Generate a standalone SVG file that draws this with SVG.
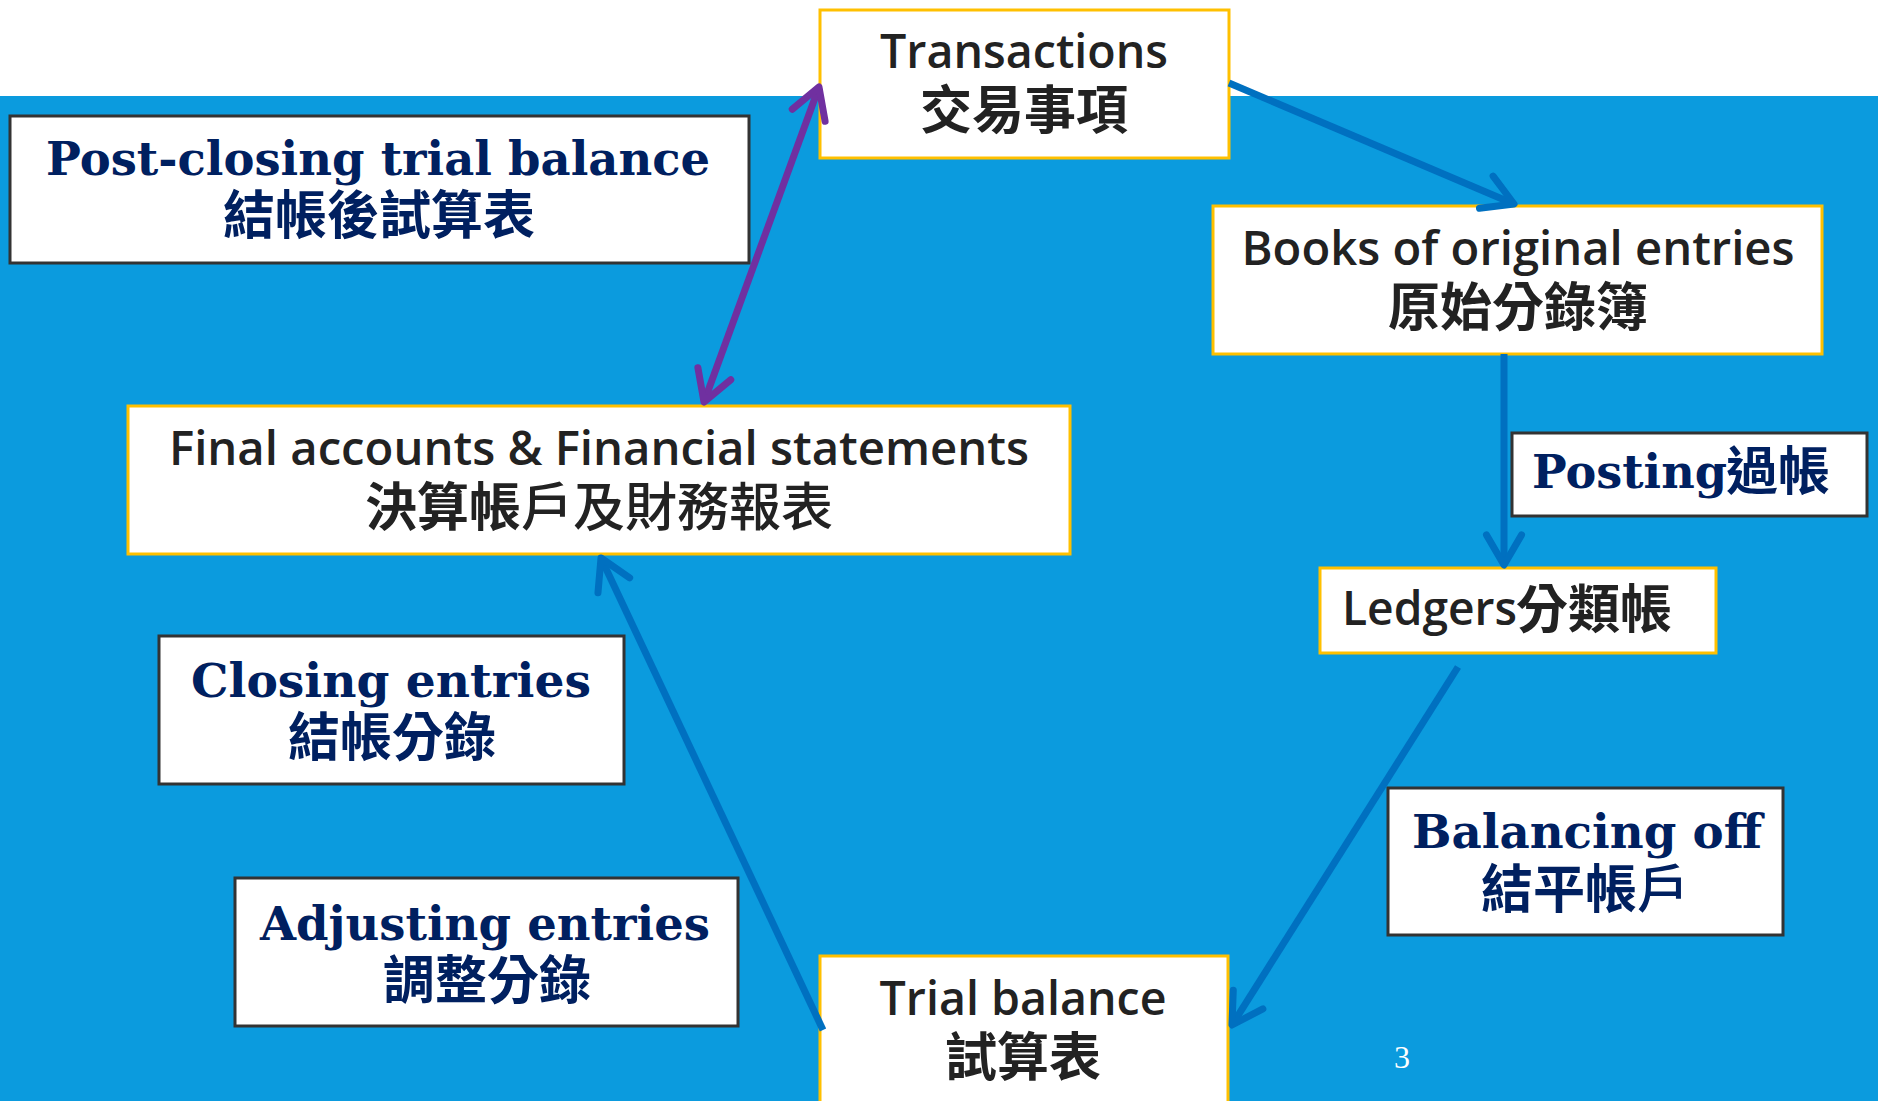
<svg xmlns="http://www.w3.org/2000/svg" width="1878" height="1101" viewBox="0 0 1878 1101">
<style>
.node{fill:#fff;stroke:#FFC000;stroke-width:3}
.lab{fill:#fff;stroke:#333;stroke-width:3}
.en{font-family:"Open Sans","Noto Sans","Liberation Sans",sans-serif;font-weight:600;font-size:47px;fill:#222;text-anchor:middle}
.zh{font-family:"Noto Sans CJK TC","Noto Sans CJK SC",sans-serif;font-weight:700;font-size:52px;fill:#222;text-anchor:middle}
.len{font-family:"DejaVu Serif","Liberation Serif",serif;font-weight:700;font-size:46px;fill:#002060;text-anchor:middle}
.lzh{font-family:"Noto Sans CJK TC","Noto Sans CJK SC",sans-serif;font-weight:700;font-size:52px;fill:#002060;text-anchor:middle}
.thin{font-weight:500}
.blue{stroke:#0070C0;stroke-width:7;fill:none}
.purple{stroke:#7030A0;stroke-width:7;fill:none}
</style>
<defs>
<marker id="ab" viewBox="-6 -4 8 8" refX="0" refY="0" markerWidth="8" markerHeight="8" orient="auto-start-reverse" overflow="visible">
<path d="M-4.3,-2.5 L0,0 L-4.3,2.5" fill="none" stroke="#0070C0" stroke-width="1" stroke-linecap="round" stroke-linejoin="round"/>
</marker>
<marker id="ap" viewBox="-6 -4 8 8" refX="0" refY="0" markerWidth="8" markerHeight="8" orient="auto-start-reverse" overflow="visible">
<path d="M-4.3,-2.5 L0,0 L-4.3,2.5" fill="none" stroke="#7030A0" stroke-width="1" stroke-linecap="round" stroke-linejoin="round"/>
</marker>
</defs>
<rect x="0" y="0" width="1878" height="1101" fill="#fff"/>
<rect x="0" y="96" width="1878" height="1005" fill="#0B9BDE"/>

<g id="transactions">
<rect class="node" x="820" y="10" width="409" height="148"/>
<text class="en" x="1024" y="68" textLength="288" lengthAdjust="spacingAndGlyphs">Transactions</text>
<text class="zh" x="1024" y="129">交易事項</text>
</g>

<g id="post-closing">
<rect class="lab" x="10" y="116" width="739" height="147"/>
<text class="len" x="378" y="175" textLength="664" lengthAdjust="spacingAndGlyphs">Post-closing trial balance</text>
<text class="lzh" x="379" y="234">結帳後試算表</text>
</g>

<g id="books">
<rect class="node" x="1213" y="206" width="609" height="148"/>
<text class="en" x="1518" y="265" textLength="553" lengthAdjust="spacingAndGlyphs">Books of original entries</text>
<text class="zh" x="1518" y="326">原始分錄簿</text>
</g>

<g id="posting">
<rect class="lab" x="1512" y="433" width="355" height="83"/>
<text class="len" x="1532" y="488" style="text-anchor:start" textLength="195" lengthAdjust="spacingAndGlyphs">Posting</text>
<text class="lzh" x="1726" y="490" style="text-anchor:start">過帳</text>
</g>

<g id="ledgers">
<rect class="node" x="1320" y="568" width="396" height="85"/>
<text class="en" x="1342" y="625" style="text-anchor:start" textLength="175" lengthAdjust="spacingAndGlyphs">Ledgers</text>
<text class="zh" x="1516" y="628" style="text-anchor:start">分類帳</text>
</g>

<g id="final-accounts">
<rect class="node" x="128" y="406" width="942" height="148"/>
<text class="en" x="599" y="465" textLength="860" lengthAdjust="spacingAndGlyphs">Final accounts &amp; Financial statements</text>
<text class="zh" x="599" y="526">決算帳<tspan class="thin">戶及財務報表</tspan></text>
</g>

<g id="closing">
<rect class="lab" x="159" y="636" width="465" height="148"/>
<text class="len" x="391" y="697" textLength="400" lengthAdjust="spacingAndGlyphs">Closing entries</text>
<text class="lzh" x="392" y="756">結帳分錄</text>
</g>

<g id="adjusting">
<rect class="lab" x="235" y="878" width="503" height="148"/>
<text class="len" x="485" y="940" textLength="450" lengthAdjust="spacingAndGlyphs">Adjusting entries</text>
<text class="lzh" x="487" y="999">調整分錄</text>
</g>

<g id="trial-balance">
<rect class="node" x="820" y="956" width="408" height="160"/>
<text class="en" x="1023" y="1015" textLength="287" lengthAdjust="spacingAndGlyphs">Trial balance</text>
<text class="zh" x="1023" y="1076">試算表</text>
</g>

<g id="balancing">
<rect class="lab" x="1388" y="788" width="395" height="147"/>
<text class="len" x="1587" y="848" textLength="350" lengthAdjust="spacingAndGlyphs">Balancing off</text>
<text class="lzh" x="1585" y="908">結平帳<tspan class="thin">戶</tspan></text>
</g>

<text x="1402" y="1068" font-family="Liberation Serif, serif" font-size="32" fill="#fff" text-anchor="middle">3</text>

<g id="connectors">
<line class="blue" x1="1229" y1="83" x2="1514" y2="204" marker-end="url(#ab)"/>
<line class="blue" x1="1504" y1="354" x2="1504" y2="565" marker-end="url(#ab)"/>
<line class="blue" x1="1458" y1="667" x2="1232" y2="1025" marker-end="url(#ab)"/>
<line class="blue" x1="823" y1="1030" x2="601" y2="558" marker-end="url(#ab)"/>
<line class="purple" x1="704" y1="402" x2="819" y2="87" marker-start="url(#ap)" marker-end="url(#ap)"/>
</g>
</svg>
